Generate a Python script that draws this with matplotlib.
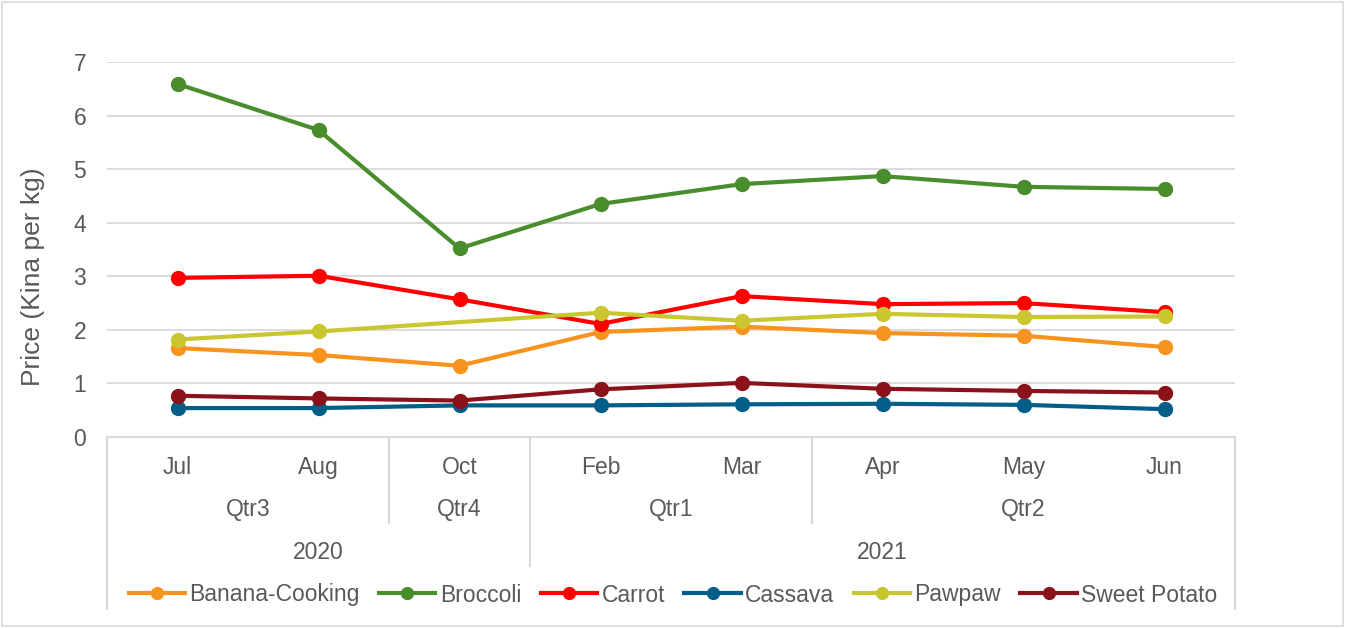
import numpy as np
import matplotlib
matplotlib.use("Agg")
import matplotlib.pyplot as plt
from matplotlib.lines import Line2D
from matplotlib.patches import Rectangle
import matplotlib.transforms as mtransforms

plt.rcParams['font.family'] = ['Liberation Sans', 'DejaVu Sans']

months = ["Jul", "Aug", "Oct", "Feb", "Mar", "Apr", "May", "Jun"]
quarters = ["Qtr3", "Qtr3", "Qtr4", "Qtr1", "Qtr1", "Qtr2", "Qtr2", "Qtr2"]
years = ["2020", "2020", "2020", "2021", "2021", "2021", "2021", "2021"]

banana = [1.66, 1.53, 1.33, 1.96, 2.06, 1.94, 1.89, 1.68]
broccoli = [6.59, 5.73, 3.52, 4.35, 4.72, 4.87, 4.67, 4.63]
carrot = [2.97, 3.01, 2.57, 2.11, 2.63, 2.48, 2.50, 2.33]
cassava = [0.54, 0.54, 0.59, 0.59, 0.61, 0.62, 0.60, 0.52]
pawpaw = [1.82, 1.97, np.nan, 2.32, 2.17, 2.30, 2.24, 2.25]
sweet_potato = [0.77, 0.72, 0.68, 0.89, 1.01, 0.90, 0.86, 0.83]

series = [
    ("Banana-Cooking", banana, "#F7931E"),
    ("Broccoli", broccoli, "#4A8D2C"),
    ("Carrot", carrot, "#FF0000"),
    ("Cassava", cassava, "#005E88"),
    ("Pawpaw", pawpaw, "#C9C62F"),
    ("Sweet Potato", sweet_potato, "#8B111B"),
]

TXT = "#595959"
FS = 16.5

W, H = 1345, 628
fig = plt.figure(figsize=(W / 100, H / 100), dpi=100)
fig.patch.set_facecolor("white")
fig.patches.append(Rectangle((2 / W, 2 / H), 1341 / W, 624 / H, transform=fig.transFigure,
                             fill=False, edgecolor="#D9D9D9", linewidth=1.2))

left, right, top, bottom = 107, 1235, 62, 437
ax = fig.add_axes([left / W, 1 - bottom / H, (right - left) / W, (bottom - top) / H])
ax.set_xlim(-0.5, len(months) - 0.5)
ax.set_ylim(0, 7)
ax.set_yticks(range(0, 8))
for s in ax.spines.values():
    s.set_visible(False)
ax.tick_params(axis="y", length=0, pad=15, labelsize=FS, labelcolor=TXT)
ax.tick_params(axis="x", length=0, labelbottom=False)
ax.grid(axis="y", color="#D9D9D9", linewidth=1.3)
ax.set_axisbelow(True)


def fy(py):
    return 1 - py / H


fig.text(33 / W, fy(277), "Price (Kina per kg)", rotation=90, ha="center", va="center",
         fontsize=19, color=TXT)

x = np.arange(len(months))
handles = []
for name, vals, col in series:
    v = np.array(vals, dtype=float)
    m = ~np.isnan(v)
    ax.plot(x[m], v[m], color=col, linewidth=3, marker="o", markersize=10,
            solid_capstyle="round", zorder=3)
    handles.append(Line2D([], [], color=col, linewidth=3, marker="o", markersize=8.5))

# category axis (multi-level)
tr = mtransforms.blended_transform_factory(ax.transData, fig.transFigure)

gc = "#D9D9D9"
ax.plot([-0.5, len(months) - 0.5], [fy(437)] * 2, transform=tr, color=gc, lw=1.5, clip_on=False)

for i, mth in enumerate(months):
    ax.text(i, fy(474), mth, transform=tr, ha="center", va="baseline", fontsize=FS, color=TXT)


def groups(labels):
    out = []
    start = 0
    for i in range(1, len(labels) + 1):
        if i == len(labels) or labels[i] != labels[start]:
            out.append((labels[start], start, i - 1))
            start = i
    return out


qgroups = groups(quarters)
ygroups = groups(years)
for lab, a, b in qgroups:
    ax.text((a + b) / 2, fy(516), lab, transform=tr, ha="center", va="baseline", fontsize=FS, color=TXT)
for lab, a, b in ygroups:
    ax.text((a + b) / 2, fy(559), lab, transform=tr, ha="center", va="baseline", fontsize=FS, color=TXT)

# separators
ybounds = {b + 0.5 for _, _, b in ygroups[:-1]}
for _, _, b in qgroups[:-1]:
    xb = b + 0.5
    end = 566 if xb in ybounds else 523
    ax.plot([xb, xb], [fy(437), fy(end)], transform=tr, color=gc, lw=1.5, clip_on=False)
for xb in (-0.5, len(months) - 0.5):
    ax.plot([xb, xb], [fy(437), fy(609)], transform=tr, color=gc, lw=1.5, clip_on=False)

fig.legend(handles, [s[0] for s in series], loc="center", bbox_to_anchor=(673 / W, fy(595)),
           ncol=6, frameon=False, fontsize=FS, handlelength=2.45, handletextpad=0.2,
           columnspacing=0.85, labelcolor=TXT)

fig.savefig("out.png", dpi=100, facecolor="white")
